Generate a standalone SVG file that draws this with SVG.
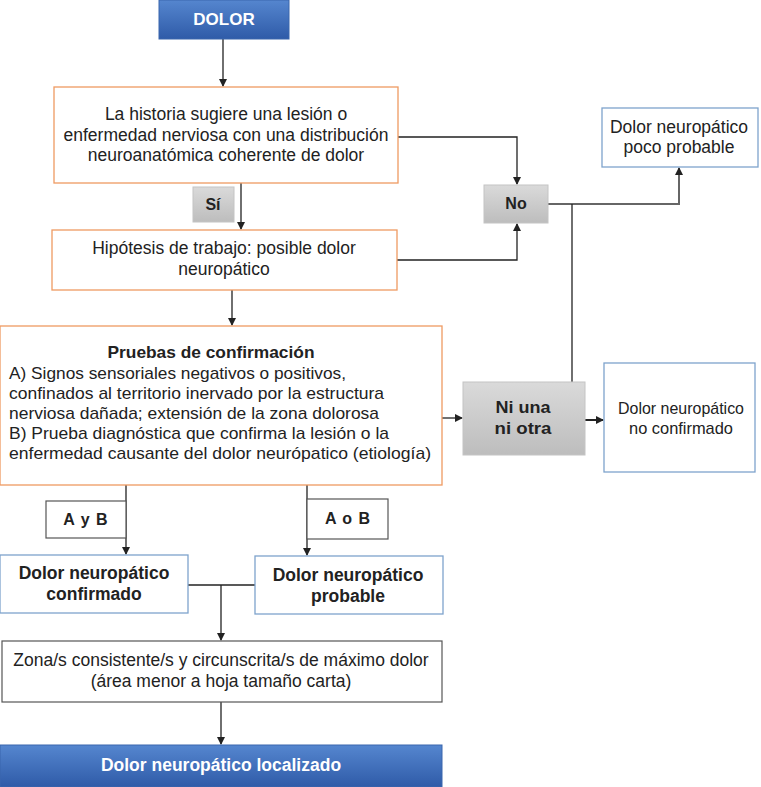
<svg xmlns="http://www.w3.org/2000/svg" width="761" height="787" viewBox="0 0 761 787">
<defs>
<linearGradient id="gBlue" x1="0" y1="0" x2="0" y2="1">
<stop offset="0" stop-color="#5586cf"/><stop offset="1" stop-color="#2f5ba8"/>
</linearGradient>
<linearGradient id="gGray" x1="0" y1="0" x2="0" y2="1">
<stop offset="0" stop-color="#dadada"/><stop offset="1" stop-color="#bdbdbd"/>
</linearGradient>
<marker id="arr" markerWidth="8" markerHeight="8" refX="7" refY="4" orient="auto" markerUnits="userSpaceOnUse">
<path d="M0,0 L8,4 L0,8 Z" fill="#222"/>
</marker>
</defs>
<style>
text{font-family:"Liberation Sans",Arial,sans-serif;fill:#222;}
.t{font-size:17.5px;text-anchor:middle;}
.s{font-size:16px;text-anchor:middle;}
.b{font-weight:bold;}
.w{fill:#fff;font-weight:bold;text-anchor:middle;}
.n{font-size:17px;}
.or{fill:#fff;stroke:#ef9a62;stroke-width:1.3;}
.bl{fill:#fff;stroke:#7ea3cc;stroke-width:1.3;}
.gy{fill:url(#gGray);stroke:#c4c4c4;stroke-width:1;}
.dk{fill:#fff;stroke:#555;stroke-width:1.2;}
.bb{fill:url(#gBlue);stroke:#3a66ad;stroke-width:1;}
.c{fill:none;stroke:#222;stroke-width:1.3;}
</style>
<rect width="761" height="787" fill="#fff"/>
<g id="connectors">
<path class="c" d="M223,39 V86" marker-end="url(#arr)"/>
<path class="c" d="M241,183 V229" marker-end="url(#arr)"/>
<path class="c" d="M398,137 H517 V184" marker-end="url(#arr)"/>
<path class="c" d="M397,260 H517 V224" marker-end="url(#arr)"/>
<path d="M548,204 H679 V168" fill="none" stroke="#666" stroke-width="2" marker-end="url(#arr)"/>
<path class="c" d="M572,204 V382"/>
<path class="c" d="M232,290 V325" marker-end="url(#arr)"/>
<path class="c" d="M442,418 H462" marker-end="url(#arr)"/>
<path d="M585,420 H603" fill="none" stroke="#222" stroke-width="2" marker-end="url(#arr)"/>
<path class="c" d="M126,485 V554" marker-end="url(#arr)"/>
<path class="c" d="M307,485 V555" marker-end="url(#arr)"/>
<path class="c" d="M188,585 H256"/>
<path class="c" d="M221,585 V640" marker-end="url(#arr)"/>
<path class="c" d="M221,702 V744" marker-end="url(#arr)"/>
</g>
<g id="dolor">
<rect class="bb" x="159" y="0" width="130" height="39"/>
<text class="w" x="224" y="25" font-size="17">DOLOR</text>
</g>
<g id="historia">
<rect class="or" x="54" y="87" width="344" height="96"/>
<text class="t" x="226" y="120">La historia sugiere una lesión o</text>
<text class="t" x="226" y="141">enfermedad nerviosa con una distribución</text>
<text class="t" x="226" y="161">neuroanatómica coherente de dolor</text>
</g>
<g id="si">
<rect class="gy" x="193" y="187" width="41" height="35"/>
<text class="s b" x="213" y="210">Sí</text>
</g>
<g id="hipotesis">
<rect class="or" x="52" y="230" width="345" height="60"/>
<text class="t" x="224" y="254">Hipótesis de trabajo: posible dolor</text>
<text class="t" x="224" y="275">neuropático</text>
</g>
<g id="no">
<rect class="gy" x="484" y="185" width="64" height="38"/>
<text class="s b" x="516" y="209">No</text>
</g>
<g id="poco">
<rect class="bl" x="602" y="108" width="156" height="59"/>
<text class="t" x="679" y="133">Dolor neuropático</text>
<text class="t" x="679" y="153">poco probable</text>
</g>
<g id="pruebas">
<rect class="or" x="0" y="326" width="442" height="159"/>
<text class="n b" x="211" y="358" text-anchor="middle" textLength="207" lengthAdjust="spacingAndGlyphs">Pruebas de confirmación</text>
<text class="n" x="9" y="379" textLength="337" lengthAdjust="spacingAndGlyphs">A) Signos sensoriales negativos o positivos,</text>
<text class="n" x="9" y="399" textLength="375" lengthAdjust="spacingAndGlyphs">confinados al territorio inervado por la estructura</text>
<text class="n" x="9" y="419" textLength="370" lengthAdjust="spacingAndGlyphs">nerviosa dañada; extensión de la zona dolorosa</text>
<text class="n" x="9" y="439" textLength="380" lengthAdjust="spacingAndGlyphs">B) Prueba diagnóstica que confirma la lesión o la</text>
<text class="n" x="9" y="459" textLength="422" lengthAdjust="spacingAndGlyphs">enfermedad causante del dolor neurópatico (etiología)</text>
</g>
<g id="niuna">
<rect class="gy" x="463" y="382" width="122" height="73"/>
<text class="n b" x="523" y="413" text-anchor="middle" textLength="55" lengthAdjust="spacingAndGlyphs">Ni una</text>
<text class="n b" x="523" y="434" text-anchor="middle" textLength="57" lengthAdjust="spacingAndGlyphs">ni otra</text>
</g>
<g id="noconf">
<rect class="bl" x="604" y="363" width="151" height="109"/>
<text class="n" x="681" y="414" text-anchor="middle" textLength="126" lengthAdjust="spacingAndGlyphs">Dolor neuropático</text>
<text class="n" x="681" y="434" text-anchor="middle" textLength="104" lengthAdjust="spacingAndGlyphs">no confirmado</text>
</g>
<g id="ayb">
<rect class="dk" x="46" y="501" width="80" height="37"/>
<text class="s b" x="86" y="525" letter-spacing="1">A y B</text>
</g>
<g id="aob">
<rect class="dk" x="307" y="499" width="81" height="40"/>
<text class="s b" x="348" y="524" letter-spacing="1">A o B</text>
</g>
<g id="confirmado">
<rect class="bl" x="0" y="555" width="188" height="58"/>
<text class="t b" x="94" y="579">Dolor neuropático</text>
<text class="t b" x="94" y="600">confirmado</text>
</g>
<g id="probable">
<rect class="bl" x="255" y="556" width="188" height="58"/>
<text class="t b" x="348" y="581">Dolor neuropático</text>
<text class="t b" x="348" y="602">probable</text>
</g>
<g id="zona">
<rect class="dk" x="2" y="641" width="440" height="61"/>
<text class="t" x="221" y="666">Zona/s consistente/s y circunscrita/s de máximo dolor</text>
<text class="t" x="221" y="687">(área menor a hoja tamaño carta)</text>
</g>
<g id="localizado">
<rect class="bb" x="0" y="745" width="442" height="42"/>
<text class="w" x="221" y="771" font-size="17.5">Dolor neuropático localizado</text>
</g>
</svg>
